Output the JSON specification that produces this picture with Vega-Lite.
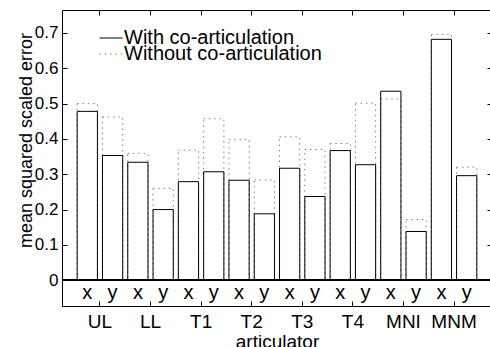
{
  "$schema": "https://vega.github.io/schema/vega-lite/v6.json",
  "width": 430,
  "height": 296,
  "autosize": {"type": "none"},
  "padding": {"left": 62, "top": 10, "right": 0, "bottom": 41},
  "background": "white",
  "config": {
    "view": {"stroke": "black", "strokeWidth": 1},
    "font": "Liberation Sans",
    "axis": {"grid": false, "domainColor": "black", "tickColor": "black", "labelColor": "black", "titleColor": "black", "labelFont": "Liberation Sans", "titleFont": "Liberation Sans", "labelFontSize": 17, "titleFontSize": 18, "titleFontWeight": "normal"},
    "legend": {"title": null, "orient": "none", "symbolType": "stroke", "symbolSize": 529, "symbolStrokeWidth": 1, "labelFontSize": 20, "labelFont": "Liberation Sans", "labelColor": "black", "labelOffset": 1, "labelLimit": 400, "padding": 0}
  },
  "data": {
    "values": [
      {"art": "UL", "coord": "x", "series": "Without co-articulation", "value": 0.500},
      {"art": "UL", "coord": "y", "series": "Without co-articulation", "value": 0.462},
      {"art": "LL", "coord": "x", "series": "Without co-articulation", "value": 0.359},
      {"art": "LL", "coord": "y", "series": "Without co-articulation", "value": 0.260},
      {"art": "T1", "coord": "x", "series": "Without co-articulation", "value": 0.368},
      {"art": "T1", "coord": "y", "series": "Without co-articulation", "value": 0.457},
      {"art": "T2", "coord": "x", "series": "Without co-articulation", "value": 0.398},
      {"art": "T2", "coord": "y", "series": "Without co-articulation", "value": 0.284},
      {"art": "T3", "coord": "x", "series": "Without co-articulation", "value": 0.406},
      {"art": "T3", "coord": "y", "series": "Without co-articulation", "value": 0.370},
      {"art": "T4", "coord": "x", "series": "Without co-articulation", "value": 0.387},
      {"art": "T4", "coord": "y", "series": "Without co-articulation", "value": 0.501},
      {"art": "MNI", "coord": "x", "series": "Without co-articulation", "value": 0.513},
      {"art": "MNI", "coord": "y", "series": "Without co-articulation", "value": 0.172},
      {"art": "MNM", "coord": "x", "series": "Without co-articulation", "value": 0.696},
      {"art": "MNM", "coord": "y", "series": "Without co-articulation", "value": 0.320},
      {"art": "UL", "coord": "x", "series": "With co-articulation", "value": 0.478},
      {"art": "UL", "coord": "y", "series": "With co-articulation", "value": 0.353},
      {"art": "LL", "coord": "x", "series": "With co-articulation", "value": 0.334},
      {"art": "LL", "coord": "y", "series": "With co-articulation", "value": 0.200},
      {"art": "T1", "coord": "x", "series": "With co-articulation", "value": 0.279},
      {"art": "T1", "coord": "y", "series": "With co-articulation", "value": 0.307},
      {"art": "T2", "coord": "x", "series": "With co-articulation", "value": 0.283},
      {"art": "T2", "coord": "y", "series": "With co-articulation", "value": 0.188},
      {"art": "T3", "coord": "x", "series": "With co-articulation", "value": 0.317},
      {"art": "T3", "coord": "y", "series": "With co-articulation", "value": 0.237},
      {"art": "T4", "coord": "x", "series": "With co-articulation", "value": 0.367},
      {"art": "T4", "coord": "y", "series": "With co-articulation", "value": 0.327},
      {"art": "MNI", "coord": "x", "series": "With co-articulation", "value": 0.535},
      {"art": "MNI", "coord": "y", "series": "With co-articulation", "value": 0.138},
      {"art": "MNM", "coord": "x", "series": "With co-articulation", "value": 0.682},
      {"art": "MNM", "coord": "y", "series": "With co-articulation", "value": 0.296}
    ]
  },
  "resolve": {"axis": {"x": "independent", "y": "independent"}, "scale": {"color": "independent"}},
  "layer": [
    {
      "transform": [{"filter": "datum.series === 'Without co-articulation'"}],
      "mark": {"type": "bar", "filled": false, "strokeWidth": 1, "strokeDash": [1.5, 3.8]},
      "encoding": {
        "x": {"field": "art", "type": "nominal", "sort": ["UL", "LL", "T1", "T2", "T3", "T4", "MNI", "MNM"],
              "scale": {"paddingInner": 0, "paddingOuter": 0.25},
              "axis": {"orient": "bottom", "title": "articulator", "titleFontSize": 19, "labelFontSize": 19, "labelAngle": 0, "tickSize": 5, "offset": -5, "labelPadding": 6, "titleY": 46, "titleBaseline": "alphabetic", "domain": false}},
        "xOffset": {"field": "coord", "type": "nominal", "scale": {"paddingInner": 0.2, "paddingOuter": 0.1}},
        "y": {"field": "value", "type": "quantitative", "stack": null,
              "scale": {"domain": [-0.073, 0.765], "nice": false, "zero": false},
              "axis": {"orient": "left", "title": "mean squared scaled error", "values": [0, 0.1, 0.2, 0.3, 0.4, 0.5, 0.6, 0.7], "format": ".1~f", "tickSize": 5, "offset": -5, "labelPadding": 4, "titleX": -41, "titleY": 130, "titleBaseline": "middle", "domain": false}},
        "y2": {"datum": 0},
        "color": {"field": "series", "type": "nominal",
                  "scale": {"domain": ["Without co-articulation"], "range": ["#808080"]},
                  "legend": {"legendX": 37, "legendY": 32, "symbolDash": [1.5, 3.8]}}
      }
    },
    {
      "transform": [{"filter": "datum.series === 'With co-articulation'"}],
      "mark": {"type": "bar", "filled": false, "strokeWidth": 1},
      "encoding": {
        "x": {"field": "art", "type": "nominal", "sort": ["UL", "LL", "T1", "T2", "T3", "T4", "MNI", "MNM"], "axis": null},
        "xOffset": {"field": "coord", "type": "nominal"},
        "y": {"field": "value", "type": "quantitative", "stack": null, "axis": null},
        "y2": {"datum": 0},
        "color": {"field": "series", "type": "nominal",
                  "scale": {"domain": ["With co-articulation"], "range": ["black"]},
                  "legend": {"legendX": 37, "legendY": 16}}
      }
    },
    {
      "transform": [{"filter": "datum.series === 'With co-articulation'"}],
      "mark": {"type": "text", "fontSize": 20, "font": "Liberation Sans", "color": "black", "baseline": "middle", "align": "center"},
      "encoding": {
        "x": {"field": "art", "type": "nominal", "sort": ["UL", "LL", "T1", "T2", "T3", "T4", "MNI", "MNM"],
              "axis": {"orient": "top", "title": null, "labels": false, "tickSize": 5, "offset": -5, "domain": false}},
        "xOffset": {"field": "coord", "type": "nominal"},
        "y": {"datum": -0.036, "type": "quantitative", "axis": null},
        "text": {"field": "coord"}
      }
    },
    {
      "mark": {"type": "rule", "color": "black", "strokeWidth": 1},
      "encoding": {
        "y": {"datum": 0, "type": "quantitative",
              "axis": {"orient": "right", "title": null, "labels": false, "values": [0, 0.1, 0.2, 0.3, 0.4, 0.5, 0.6, 0.7], "tickSize": 5, "offset": -5, "domain": false}}
      }
    }
  ]
}
